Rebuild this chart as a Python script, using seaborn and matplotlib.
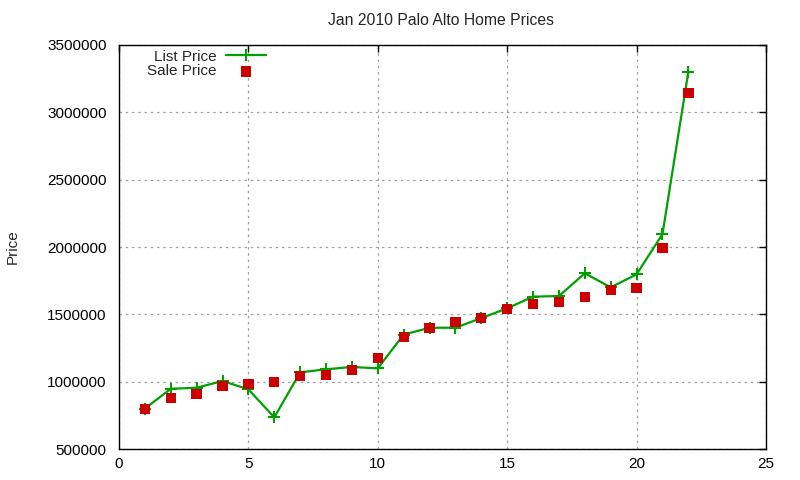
import matplotlib
matplotlib.use("Agg")
import matplotlib.pyplot as plt
import seaborn as sns
import pandas as pd

house = list(range(1, 23))
list_price = [800000, 947000, 955000, 1005000, 943000, 735000, 1069000, 1092000, 1109000, 1099000,
              1350000, 1400000, 1401000, 1472000, 1545000, 1631000, 1636000, 1805000, 1700000, 1797000,
              2096000, 3302000]
sale_price = [799000, 881000, 911000, 970000, 985000, 1000000, 1044000, 1052000, 1089000, 1178000,
              1330000, 1401000, 1445000, 1475000, 1542000, 1579000, 1594000, 1631000, 1683000, 1698000,
              1995000, 3146000]
x_ticks = [0, 5, 10, 15, 20, 25]
y_ticks = [500000, 1000000, 1500000, 2000000, 2500000, 3000000, 3500000]

df = pd.DataFrame({"house": house, "List Price": list_price, "Sale Price": sale_price})

sns.set_style("white")
plt.rcParams['font.family'] = ['Liberation Sans', 'DejaVu Sans']

fig = plt.figure(figsize=(8, 4.8), dpi=100)
ax = fig.add_axes([0.14875, 0.06458, 0.80875, 0.84167])

green = "#00a000"
sns.lineplot(data=df, x="house", y="List Price", ax=ax, color=green, linewidth=1.6,
             marker="+", markersize=9, markeredgewidth=1.5, markeredgecolor=green,
             markerfacecolor=green, label="List Price")
sns.scatterplot(data=df, x="house", y="Sale Price", ax=ax, color="#cc0000", marker="s",
                s=55, edgecolor="none", label="Sale Price", zorder=3)

ax.set_xlim(0, 25)
ax.set_ylim(500000, 3500000)
ax.set_xticks(x_ticks)
ax.set_yticks(y_ticks)
ax.set_xticklabels([str(v) for v in x_ticks])
ax.set_yticklabels([str(v) for v in y_ticks])
ax.tick_params(axis="both", direction="in", length=5, width=1, top=True, right=True,
               labelsize=11, colors="black")
ax.tick_params(axis="y", pad=9)
ax.tick_params(axis="x", pad=6)
ax.grid(True, linestyle=(0, (2, 3)), color="#a0a0a0", linewidth=0.9)
for s in ax.spines.values():
    s.set_color("black")
    s.set_linewidth(1)

ax.set_xlabel("")
ax.set_ylabel("")
fig.text(0.016, 0.487, "Price", rotation=90, ha="center", va="center", fontsize=11)
fig.text(0.551, 0.958, "Jan 2010 Palo Alto Home Prices", ha="center", va="center", fontsize=11.3)

leg = ax.legend(loc="upper left", bbox_to_anchor=(0.027, 1.015), frameon=False, markerfirst=False,
                fontsize=11, handlelength=2.6, borderaxespad=0.3, labelspacing=0.05,
                handletextpad=0.6)
for t in leg.get_texts():
    t.set_ha("right")

fig.savefig("out.png", dpi=100)
